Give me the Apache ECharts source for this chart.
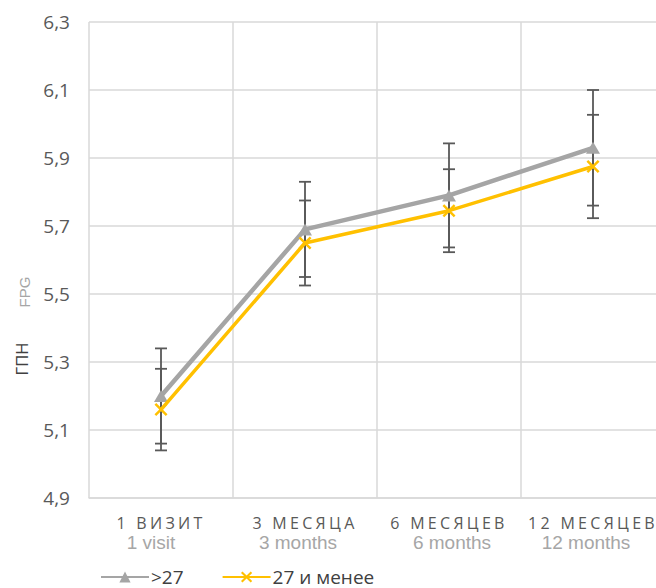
<!DOCTYPE html>
<html><head><meta charset="utf-8">
<script src="https://cdn.jsdelivr.net/npm/echarts@6/dist/echarts.min.js"></script>
<style>
html,body{margin:0;padding:0;background:#fff;overflow:hidden;width:656px;height:588px}
#c{width:665px;height:588px}
#c text[fill="#595958"]{letter-spacing:3.3px}
</style></head><body><div id="c"></div>
<script>
const categoriesRu = ['1 ВИЗИТ', '3 МЕСЯЦА', '6 МЕСЯЦЕВ', '12 МЕСЯЦЕВ'];
const categoriesEn = ['1 visit', '3 months', '6 months', '12 months'];
const seriesNames = ['>27', '27 и менее'];
const over27 = [5.20, 5.69, 5.79, 5.93];
const over27Err = [0.14, 0.14, 0.153, 0.17];
const under27 = [5.16, 5.65, 5.745, 5.875];
const under27Err = [0.12, 0.125, 0.122, 0.152];
const yMin = 4.9, yMax = 6.3, yStep = 0.2;
const yTitle = 'ГПН', yTitleEn = 'FPG';

const GRAY = '#A5A5A5', YELLOW = '#FFC000';
const xPath = 'path://M0,1.6L1.6,0L6,4.4L10.4,0L12,1.6L7.6,6L12,10.4L10.4,12L6,7.6L1.6,12L0,10.4L4.4,6Z';

function errData(vals, errs) {
  return vals.map((v, i) => [i, v - errs[i], v + errs[i]]);
}
function errRender(params, api) {
  const x = api.value(0), lo = api.value(1), hi = api.value(2);
  const a = api.coord([x, lo]), b = api.coord([x, hi]);
  const w = 6;
  const style = { stroke: '#595959', lineWidth: 1.8 };
  return {
    type: 'group', children: [
      { type: 'line', shape: { x1: a[0], y1: a[1], x2: b[0], y2: b[1] }, style },
      { type: 'line', shape: { x1: a[0] - w, y1: a[1], x2: a[0] + w, y2: a[1] }, style },
      { type: 'line', shape: { x1: b[0] - w, y1: b[1], x2: b[0] + w, y2: b[1] }, style }
    ]
  };
}

// small horizontal nudges of the English sub-labels, as in the reference
const enLabelStyles = {
  s0: { padding: [0, 20, 0, 0] },
  s1: { padding: [0, 14, 0, 0] },
  s2: { padding: [0, 0, 0, 6] },
  s3: { padding: [0, 14, 0, 0] }
};

const chart = echarts.init(document.getElementById('c'), null, { renderer: 'svg' });
chart.setOption({
  animation: false,
  backgroundColor: '#fff',
  grid: { left: 89, right: 0, top: 22, bottom: 90, containLabel: false },
  legend: {
    left: 95, top: 562, itemWidth: 48, itemHeight: 14, itemGap: 38,
    data: seriesNames,
    textStyle: { fontFamily: 'Open Sans', fontSize: 19, lineHeight: 20, color: '#404040', padding: [0, 0, 0, -3] }
  },
  xAxis: [{
    type: 'category', data: categoriesRu, boundaryGap: true,
    axisLine: { show: true, lineStyle: { color: '#D9D9D9', width: 1.5 } },
    axisTick: { show: false },
    splitLine: { show: true, lineStyle: { color: '#D9D9D9', width: 1.5 } },
    axisLabel: { interval: 0, margin: 18, fontFamily: 'Open Sans', fontSize: 16, lineHeight: 14, color: '#595958' }
  }, {
    type: 'category', data: categoriesEn, position: 'bottom', boundaryGap: true,
    axisLine: { show: false }, axisTick: { show: false }, splitLine: { show: false },
    axisLabel: {
      interval: 0, margin: 36, fontFamily: 'Liberation Sans', fontSize: 19, lineHeight: 16, color: '#A6A6A6',
      formatter: (v, i) => '{s' + i + '|' + v + '}',
      rich: enLabelStyles
    }
  }],
  yAxis: {
    type: 'value', min: yMin, max: yMax, interval: yStep,
    axisLine: { show: false }, axisTick: { show: false },
    splitLine: { show: true, lineStyle: { color: '#D9D9D9', width: 1.5 } },
    axisLabel: {
      margin: 19, fontFamily: 'Open Sans', fontSize: 19, color: '#595959',
      formatter: v => v.toFixed(1).replace('.', ',')
    }
  },
  graphic: [
    { type: 'text', x: 21, y: 359, rotation: Math.PI / 2,
      style: { text: yTitle, fontFamily: 'Open Sans', fontSize: 16.5, fill: '#404040', align: 'center', verticalAlign: 'middle' } },
    { type: 'text', x: 24, y: 292, rotation: Math.PI / 2,
      style: { text: yTitleEn, fontFamily: 'Liberation Sans', fontSize: 15, fill: '#A6A6A6', align: 'center', verticalAlign: 'middle' } }
  ],
  series: [
    { type: 'custom', name: 'err1', renderItem: errRender, data: errData(over27, over27Err),
      encode: { x: 0, y: [1, 2] }, z: 1, silent: true },
    { type: 'custom', name: 'err2', renderItem: errRender, data: errData(under27, under27Err),
      encode: { x: 0, y: [1, 2] }, z: 1, silent: true },
    { type: 'line', name: seriesNames[0], data: over27, z: 3,
      lineStyle: { color: GRAY, width: 4.5 }, itemStyle: { color: GRAY },
      symbol: 'triangle', symbolSize: [14, 12], showAllSymbol: true },
    { type: 'line', name: seriesNames[1], data: under27, z: 4,
      lineStyle: { color: YELLOW, width: 3.5 }, itemStyle: { color: YELLOW },
      symbol: xPath, symbolSize: 13, showAllSymbol: true }
  ]
});
</script></body></html>
